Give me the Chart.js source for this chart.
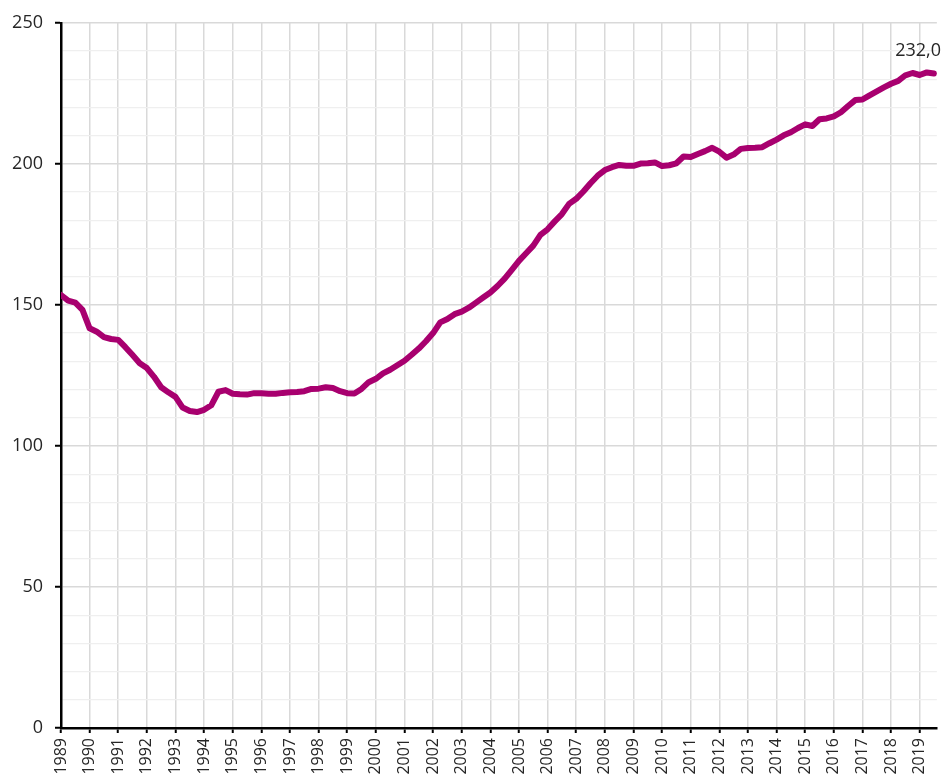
<!DOCTYPE html>
<html>
<head>
<meta charset="utf-8">
<script src="https://cdn.jsdelivr.net/npm/chart.js@4/dist/chart.umd.min.js"></script>
<style>
  html, body { margin: 0; padding: 0; background: #fff; }
  #wrap { width: 944px; height: 778px; }
</style>
</head>
<body>
<div id="wrap"><canvas id="chart" width="944" height="778"></canvas></div>
<script>
// quarterly index values, 1989 Q1 .. 2019 Q3
const firstYear = 1989;
const values = [
    153.5, 151.5, 150.8, 148.2,   // 1989
    141.7, 140.5, 138.6, 137.9,   // 1990
    137.6, 135.0, 132.2, 129.3,   // 1991
    127.6, 124.5, 120.8, 119.0,   // 1992
    117.4, 113.6, 112.4, 112.0,   // 1993
    112.8, 114.4, 119.2, 119.8,   // 1994
    118.5, 118.3, 118.2, 118.7,   // 1995
    118.7, 118.5, 118.5, 118.8,   // 1996
    119.0, 119.1, 119.4, 120.2,   // 1997
    120.3, 120.8, 120.5, 119.4,   // 1998
    118.7, 118.6, 120.2, 122.6,   // 1999
    123.8, 125.7, 127.0, 128.6,   // 2000
    130.2, 132.3, 134.5, 137.1,   // 2001
    140.0, 143.8, 145.0, 146.7,   // 2002
    147.6, 149.0, 150.8, 152.6,   // 2003
    154.4, 156.7, 159.3, 162.4,   // 2004
    165.6, 168.3, 171.0, 174.8,   // 2005
    176.8, 179.6, 182.2, 185.8,   // 2006
    187.6, 190.2, 193.1, 195.8,   // 2007
    197.8, 198.8, 199.6, 199.3,   // 2008
    199.3, 200.1, 200.2, 200.5,   // 2009
    199.2, 199.5, 200.2, 202.6,   // 2010
    202.4, 203.5, 204.5, 205.7,   // 2011
    204.3, 202.2, 203.3, 205.3,   // 2012
    205.6, 205.7, 205.9, 207.3,   // 2013
    208.6, 210.1, 211.2, 212.7,   // 2014
    214.0, 213.4, 215.8, 216.1,   // 2015
    216.8, 218.3, 220.5, 222.6,   // 2016
    222.8, 224.3, 225.7, 227.1,   // 2017
    228.4, 229.4, 231.4, 232.2,   // 2018
    231.5, 232.4, 232.0           // 2019
];
const lastLabel = "232,0";
const yTicksMajor = [0, 50, 100, 150, 200, 250];

const lineColor = "#a8006f";
const textColor = "#262626";
const fontFamily = "'Open Sans', sans-serif";

const points = values.map((v, i) => ({ x: firstYear + i / 4, y: v }));

// draws the value of the last point above the line end
const endLabel = {
    id: "endLabel",
    afterDatasetsDraw(chart) {
        const meta = chart.getDatasetMeta(0);
        const last = meta.data[meta.data.length - 1];
        const ctx = chart.ctx;
        ctx.save();
        ctx.font = "18px " + fontFamily;
        ctx.fillStyle = textColor;
        ctx.textAlign = "right";
        ctx.textBaseline = "alphabetic";
        ctx.fillText(lastLabel, last.x + 7, last.y - 18);
        ctx.restore();
    },
};

new Chart(document.getElementById("chart"), {
    type: "line",
    data: {
        datasets: [{
            data: points,
            borderColor: lineColor,
            borderWidth: 6,
            borderJoinStyle: "round",
            borderCapStyle: "round",
            pointRadius: 0,
            tension: 0,
        }],
    },
    options: {
        responsive: false,
        animation: false,
        events: [],
        layout: { padding: { top: 14, right: 6, left: 0, bottom: 0 } },
        plugins: { legend: { display: false }, tooltip: { enabled: false } },
        scales: {
            x: {
                type: "linear",
                min: 1989,
                max: 2019.6,
                afterFit: (s) => { s.height = 50; },
                border: { color: "#000", width: 2.5 },
                grid: {
                    color: "#d9d9d9",
                    lineWidth: 1.5,
                    tickLength: 5,
                    tickColor: "#000",
                    tickWidth: 2,
                },
                ticks: {
                    stepSize: 1,
                    includeBounds: false,
                    autoSkip: false,
                    minRotation: 90,
                    maxRotation: 90,
                    padding: 5,
                    color: textColor,
                    font: { family: fontFamily, size: 16 },
                    callback: (v) => String(v),
                },
            },
            y: {
                min: 0,
                max: 250,
                afterFit: (s) => { s.width = 61; },
                border: { color: "#000", width: 2.5 },
                grid: {
                    color: (c) => yTicksMajor.includes(c.tick.value) ? "#d9d9d9" : "#efefef",
                    lineWidth: (c) => yTicksMajor.includes(c.tick.value) ? 1.5 : 1.2,
                    tickLength: 6,
                    tickColor: (c) => yTicksMajor.includes(c.tick.value) ? "#000" : "rgba(0,0,0,0)",
                    tickWidth: 2,
                },
                ticks: {
                    stepSize: 10,
                    autoSkip: false,
                    padding: 12,
                    color: textColor,
                    font: { family: fontFamily, size: 18 },
                    callback: (v) => yTicksMajor.includes(v) ? String(v) : "",
                },
            },
        },
    },
    plugins: [endLabel],
});
</script>
</body>
</html>
